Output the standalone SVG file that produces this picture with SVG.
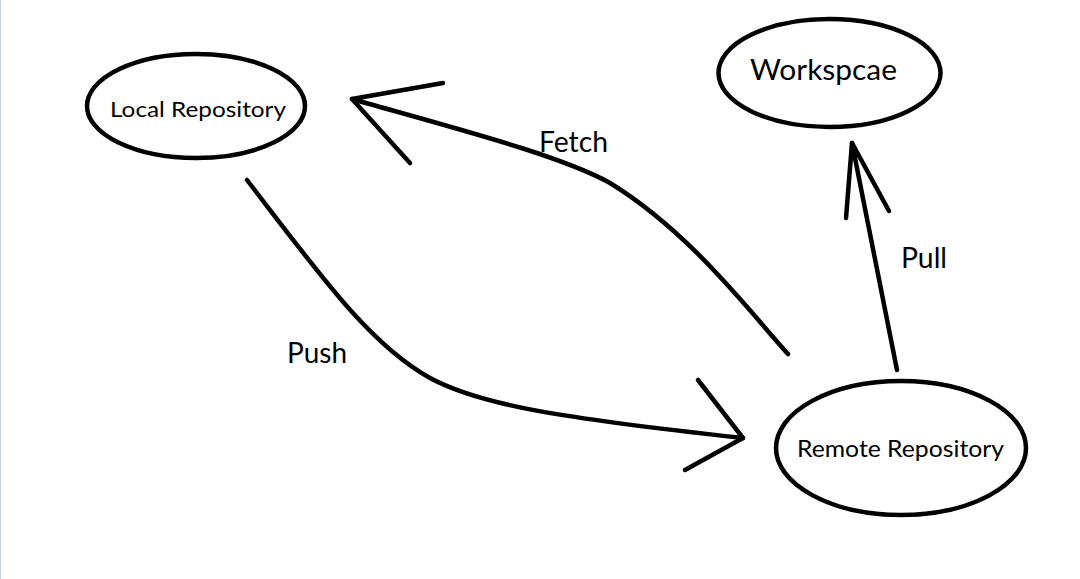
<svg xmlns="http://www.w3.org/2000/svg" width="1080" height="579" viewBox="0 0 1080 579">
  <style>
    .node { fill: #ffffff; stroke: #000000; stroke-width: 4.5; }
    .edge { fill: none; stroke: #000000; stroke-width: 4.5; stroke-linecap: round; stroke-linejoin: round; }
    .lbl { font-family: Lato, "Open Sans", "Liberation Sans", sans-serif; fill: #000000; }
  </style>
  <rect x="0" y="0" width="1080" height="579" fill="#ffffff"/>
  <rect x="0" y="0" width="1" height="579" fill="#c5d3e8"/>

  <g id="connectors">
    <g id="push">
      <path class="edge" d="M247,180 C320,275 370,345 430,378 C480,405 560,418 743,438"/>
      <path class="edge" d="M698,380 L743,438 L685,470"/>
    </g>
    <g id="fetch">
      <path class="edge" d="M788,354 C750,312 690,232 610,183 C560,155 450,127 352,99"/>
      <path class="edge" d="M443,83 L352,99 L410,163"/>
    </g>
    <g id="pull">
      <path class="edge" d="M897,370 L852,143"/>
      <path class="edge" d="M846,218 L852,143 L889,211"/>
    </g>
  </g>

  <g id="local-repository">
    <ellipse class="node" cx="196" cy="106" rx="109" ry="52"/>
    <text class="lbl" x="110" y="117" font-size="22" textLength="176" lengthAdjust="spacingAndGlyphs">Local Repository</text>
  </g>

  <g id="workspace">
    <ellipse class="node" cx="829.5" cy="73" rx="111" ry="54"/>
    <text class="lbl" x="750" y="80" font-size="29" textLength="147" lengthAdjust="spacingAndGlyphs">Workspcae</text>
  </g>

  <g id="remote-repository">
    <ellipse class="node" cx="901" cy="448" rx="125" ry="67"/>
    <text class="lbl" x="797" y="457" font-size="23" textLength="207" lengthAdjust="spacingAndGlyphs">Remote Repository</text>
  </g>

  <g id="labels">
    <text class="lbl" x="287" y="363" font-size="28" textLength="60" lengthAdjust="spacingAndGlyphs">Push</text>
    <text class="lbl" x="539" y="152" font-size="28" textLength="69" lengthAdjust="spacingAndGlyphs">Fetch</text>
    <text class="lbl" x="901" y="268" font-size="29" textLength="46" lengthAdjust="spacingAndGlyphs">Pull</text>
  </g>
</svg>
